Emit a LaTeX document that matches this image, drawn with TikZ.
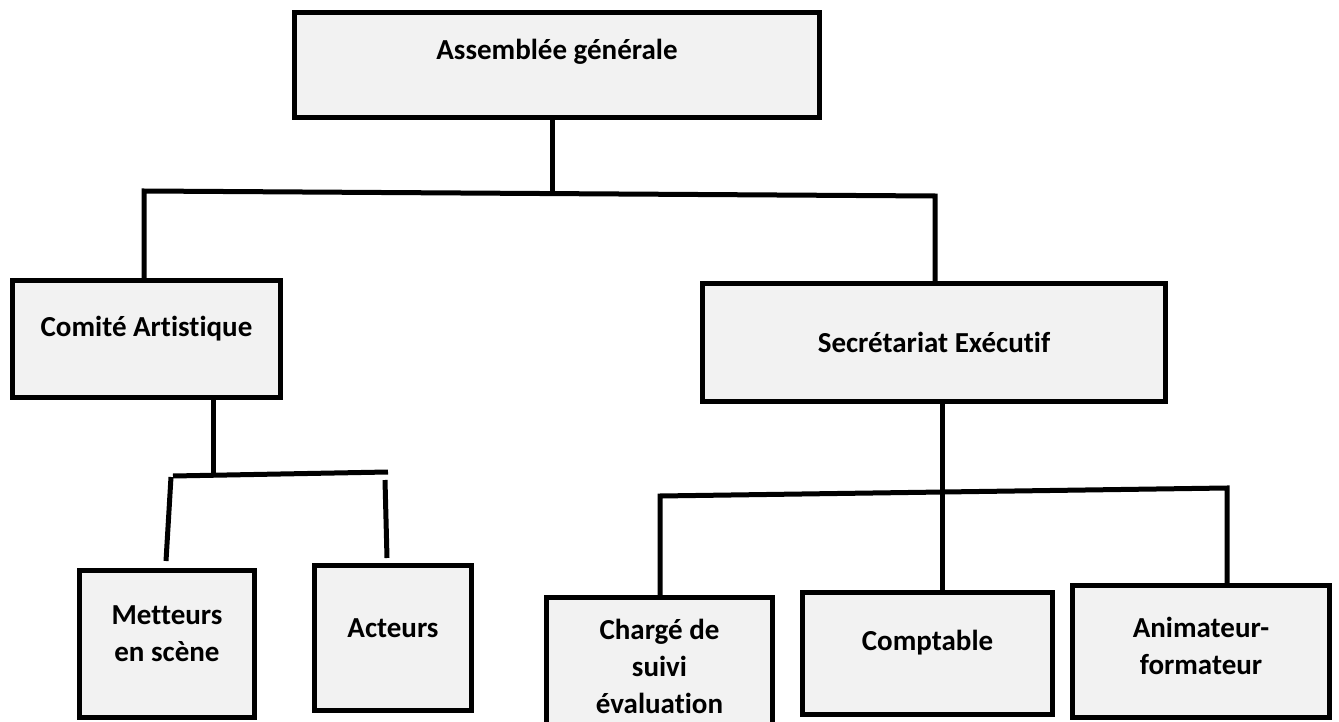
\documentclass[tikz,border=0pt]{standalone}
\usepackage{fontspec}
\setmainfont{Carlito}[Ligatures=NoCommon]
\usetikzlibrary{calc}
\definecolor{boxgray}{HTML}{F2F2F2}

\begin{document}
\begin{tikzpicture}[x=1pt, y=-1pt,
    unit/.style={draw, line width=5pt, fill=boxgray, inner sep=0pt,
      align=center, font=\bfseries\fontsize{29}{37}\selectfont},
    wire/.style={line width=5pt}
  ]
  \useasboundingbox (0,0) rectangle (1339,722);
  \clip (0,0) rectangle (1339,722);

  % boxes
  \node[unit, minimum width=525pt, minimum height=105pt, text depth=31pt] (ag) at (557,65) {Assemblée générale};
  \node[unit, minimum width=268pt, minimum height=117pt, text depth=26pt] (ca) at (146.5,339) {Comité Artistique};
  \node[unit, minimum width=463pt, minimum height=118pt] (se) at (934,342.5) {Secrétariat Exécutif};
  \node[unit, minimum width=175pt, minimum height=147pt, text depth=20pt] (ms) at (167,644) {Metteurs\\en scène};
  \node[unit, minimum width=157pt, minimum height=145pt, text depth=20pt] (act) at (393,638) {Acteurs};
  \node[unit, minimum width=226pt, minimum height=145pt, text depth=8pt] (cse) at (659.5,670) {Chargé de\\suivi\\évaluation};
  \node[unit, minimum width=250pt, minimum height=122pt, text depth=26pt] (cpt) at (927.5,653.5) {Comptable};
  \node[unit, minimum width=257pt, minimum height=132pt, text depth=12pt] (af) at (1201,651.5) {Animateur-\\formateur};

  % top level
  \coordinate (top_l) at (144,191);
  \coordinate (top_m) at (552,193);
  \coordinate (top_r) at (935,196);
  \draw[wire] (ag.south -| top_m) -- (top_m);
  \draw[wire] (top_l |- ca.north) -- (top_l) -- (top_r) -- (top_r |- se.north);

  % comite artistique
  \coordinate (ca_j) at (213,474);
  \coordinate (ca_l) at (173,476);
  \coordinate (ca_r) at (388,472);
  \draw[wire] (ca.south -| ca_j) -- (ca_j);
  \draw[wire] (ca_l) -- (ca_r);
  \draw[wire] ($(ca_l)+(-2,1)$) -- ($(ms.north)+(-1,-7)$);
  \draw[wire] ($(ca_r)+(-3,8)$) -- ($(act.north)+(-6,-5)$);

  % secretariat executif
  \coordinate (se_j) at (942,491);
  \coordinate (se_l) at (660,496);
  \coordinate (se_r) at (1227,488);
  \draw[wire] (se.south -| se_j) -- (se_j);
  \draw[wire] (se_l |- cse.north) -- (se_l) -- (se_r) -- (se_r |- af.north);
  \draw[wire] (se_j) -- (se_j |- cpt.north);
\end{tikzpicture}
\end{document}
